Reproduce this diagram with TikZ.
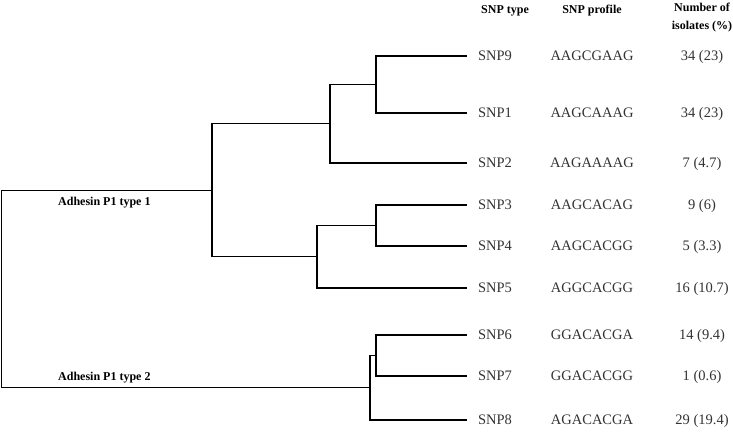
\documentclass[tikz,border=0pt]{standalone}
\usepackage{fontspec}
\setmainfont{Liberation Serif}
\usetikzlibrary{positioning}

\begin{document}
\begin{tikzpicture}[
  x=1pt,y=-1pt,
  branch/.style={line width=1.3pt},
  leaf/.style={anchor=west,inner sep=0pt,outer xsep=11pt,text height=9.5pt,text depth=0.5pt,font=\fontsize{14.5}{16}\selectfont,text=black!80},
  prof/.style={inner sep=0pt,text height=9.5pt,text depth=0.5pt,font=\fontsize{14.5}{16}\selectfont,text=black!80},
  head/.style={inner sep=0pt,align=center,font=\bfseries\fontsize{12}{18}\selectfont},
  clade/.style={anchor=west,inner sep=0pt,font=\bfseries\fontsize{12}{14}\selectfont}
]
\useasboundingbox (0,0) rectangle (733,434);

% column heads
\node[head] (h_type) at (505,11) {SNP type};
\node[head] (h_prof) at (592,11) {SNP profile};
\node[head] (h_num) at (702,18) {Number of\\isolates (\%)};

% leaves
\node[leaf] (snp9) at (467,56) {SNP9};
\node[leaf] (snp1) at (467,113) {SNP1};
\node[leaf] (snp2) at (467,163) {SNP2};
\node[leaf] (snp3) at (467,205) {SNP3};
\node[leaf] (snp4) at (467,246) {SNP4};
\node[leaf] (snp5) at (467,288) {SNP5};
\node[leaf] (snp6) at (467,335) {SNP6};
\node[leaf] (snp7) at (467,376) {SNP7};
\node[leaf] (snp8) at (467,420) {SNP8};

% profiles
\node[prof] (p9) at (snp9 -| h_prof) {AAGCGAAG};
\node[prof] (p1) at (snp1 -| h_prof) {AAGCAAAG};
\node[prof] (p2) at (snp2 -| h_prof) {AAGAAAAG};
\node[prof] (p3) at (snp3 -| h_prof) {AAGCACAG};
\node[prof] (p4) at (snp4 -| h_prof) {AAGCACGG};
\node[prof] (p5) at (snp5 -| h_prof) {AGGCACGG};
\node[prof] (p6) at (snp6 -| h_prof) {GGACACGA};
\node[prof] (p7) at (snp7 -| h_prof) {GGACACGG};
\node[prof] (p8) at (snp8 -| h_prof) {AGACACGA};

% isolate counts
\node[prof] (n9) at (snp9 -| h_num) {34 (23)};
\node[prof] (n1) at (snp1 -| h_num) {34 (23)};
\node[prof] (n2) at (snp2 -| h_num) {7 (4.7)};
\node[prof] (n3) at (snp3 -| h_num) {9 (6)};
\node[prof] (n4) at (snp4 -| h_num) {5 (3.3)};
\node[prof] (n5) at (snp5 -| h_num) {16 (10.7)};
\node[prof] (n6) at (snp6 -| h_num) {14 (9.4)};
\node[prof] (n7) at (snp7 -| h_num) {1 (0.6)};
\node[prof] (n8) at (snp8 -| h_num) {29 (19.4)};

% inner nodes of the tree
\coordinate (nA) at (376,84.5);
\coordinate (nB) at (330,123.75);
\coordinate (nC) at (376,225.5);
\coordinate (nD) at (317,256.75);
\coordinate (nE) at (212,190.25);
\coordinate (nF) at (376,355.5);
\coordinate (nG) at (370,387.75);
\coordinate (root) at (1.5,289);

\draw[branch] (nA) |- (snp9.west);
\draw[branch] (nA) |- (snp1.west);
\draw[branch] (nB) |- (nA);
\draw[branch] (nB) |- (snp2.west);
\draw[branch] (nC) |- (snp3.west);
\draw[branch] (nC) |- (snp4.west);
\draw[branch] (nD) |- (nC);
\draw[branch] (nD) |- (snp5.west);
\draw[branch] (nE) |- (nB);
\draw[branch] (nE) |- (nD);
\draw[branch] (nF) |- (snp6.west);
\draw[branch] (nF) |- (snp7.west);
\draw[branch] (nG) |- (nF);
\draw[branch] (nG) |- (snp8.west);
\draw[branch] (root) |- (nE);
\draw[branch] (root) |- (nG);

% clade labels
\node[clade] (type1) at (58,203) {Adhesin P1 type 1};
\node[clade] (type2) at (58,378) {Adhesin P1 type 2};
\end{tikzpicture}
\end{document}
